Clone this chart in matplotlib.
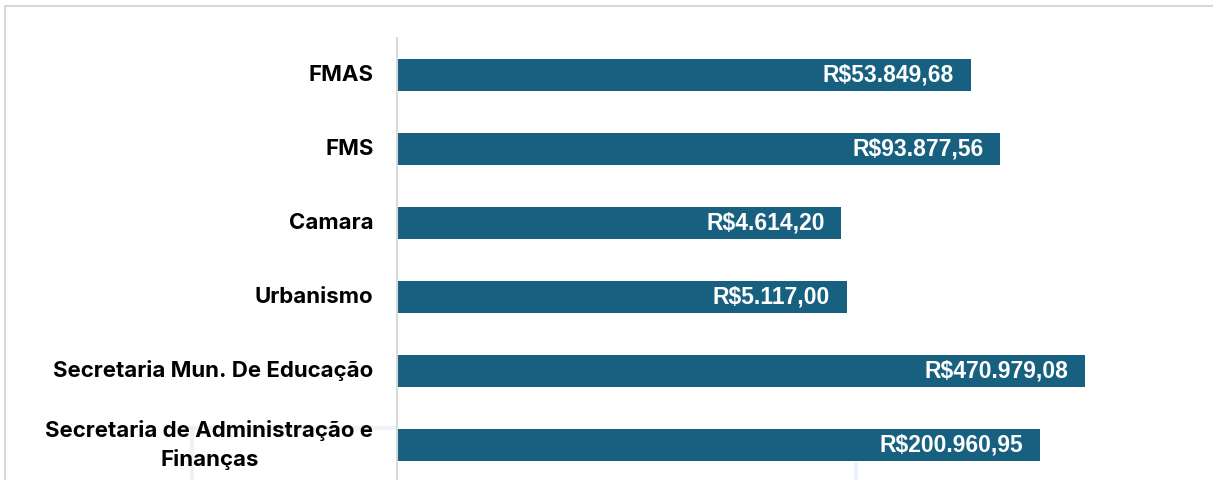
import numpy as np
import matplotlib.pyplot as plt
from matplotlib.patches import Rectangle

# data
categories = ['FMAS', 'FMS', 'Camara', 'Urbanismo',
              'Secretaria Mun. De Educação',
              'Secretaria de Administração e\nFinanças']
values = [53849.68, 93877.56, 4614.20, 5117.00, 470979.08, 200960.95]
value_labels = ['R$53.849,68', 'R$93.877,56', 'R$4.614,20', 'R$5.117,00',
                'R$470.979,08', 'R$200.960,95']

W, H = 1213, 480
fig = plt.figure(figsize=(W / 100, H / 100), dpi=100)

# light frame around the chart area
fig.patches.append(Rectangle((5 / W, -0.1), 1.2, (H - 6) / H + 0.1,
                             transform=fig.transFigure, fill=False,
                             edgecolor='#d9d9d9', linewidth=1.5))

# faint watermark strokes behind the plot
wm = dict(color='#e6eff7', alpha=0.7, linewidth=3, zorder=0)
fig.add_artist(plt.Line2D([190 / W, 395 / W], [1 - 428 / H, 1 - 428 / H], transform=fig.transFigure, **wm))
fig.add_artist(plt.Line2D([192 / W, 192 / W], [1 - 428 / H, 0], transform=fig.transFigure, **wm))
fig.add_artist(plt.Line2D([856 / W, 856 / W], [1 - 440 / H, 0], transform=fig.transFigure, **wm))

px_per_decade = 121.3
left_px, right_px = 397, 1213
ax = fig.add_axes([left_px / W, 0, (right_px - left_px) / W, 1 - 38 / H])
ax.patch.set_alpha(0)

y = np.arange(len(categories))
ax.barh(y, values, height=0.43, color='#17607f', left=1)
ax.set_xscale('log')
ax.set_xlim(1, 10 ** ((right_px - left_px) / px_per_decade))
ax.set_ylim((480 - 75) / 74, -0.5)

for yi, v, lab in zip(y, values, value_labels):
    ax.annotate(lab, (v, yi), xytext=(-12, 0), textcoords='offset points',
                ha='right', va='center', color='white', fontsize=16.5,
                fontweight='bold', family='Liberation Sans')

ax.set_yticks(y)
ax.set_yticklabels(categories, fontsize=16, fontweight='bold',
                   family='Inter', linespacing=1.45)
ax.tick_params(axis='y', length=0, pad=17)
for t in ax.get_yticklabels():
    t.set_multialignment('center')
    t.set_verticalalignment('center')
ax.set_xticks([])
ax.minorticks_off()
for s in ['top', 'right', 'bottom']:
    ax.spines[s].set_visible(False)
ax.spines['left'].set_color('#d9d9d9')
ax.spines['left'].set_linewidth(1.5)

fig.savefig('out.png', dpi=100)
